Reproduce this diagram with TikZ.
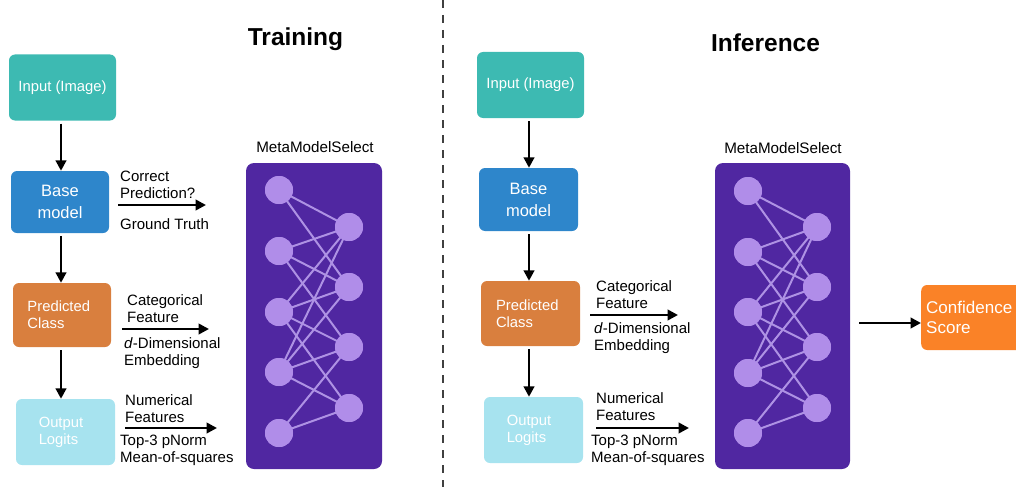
\documentclass[tikz,border=0pt]{standalone}
\usepackage{fontspec}
\setmainfont{Liberation Sans}
\usetikzlibrary{arrows.meta}
\definecolor{cteal}{HTML}{3DBAB2}
\definecolor{cblue}{HTML}{2E86CB}
\definecolor{corange}{HTML}{D97F3E}
\definecolor{ccyan}{HTML}{A7E3EF}
\definecolor{cpurple}{HTML}{5027A1}
\definecolor{cnode}{HTML}{B08DE9}
\definecolor{cedge}{HTML}{AE92E4}
\definecolor{cconf}{HTML}{FA8227}
\tikzset{
  box/.style={rounded corners=6pt, text=white, inner sep=0pt, font=\fontsize{14.8}{17}\selectfont, align=left},
  arr/.style={line width=2.8pt, -{Triangle[length=10.5pt,width=10.5pt]}},
  lbl/.style={anchor=west, inner sep=0pt, align=left, font=\fontsize{15}{17}\selectfont},
  nnbox/.style={fill=cpurple, rounded corners=8pt, minimum width=136pt, minimum height=306pt, inner sep=0pt},
  neuron/.style={circle, fill=cnode, minimum size=28pt, inner sep=0pt},
  edge/.style={cedge, line width=2pt},
  title/.style={font=\fontsize{24.5}{28}\selectfont\bfseries},
  metalbl/.style={font=\fontsize{15.2}{17}\selectfont},
}
\begin{document}
\begin{tikzpicture}[x=1pt,y=-1pt]
\useasboundingbox (0,0) rectangle (1016,487);
% divider
\draw[line width=1.3pt, dash pattern=on 8pt off 7pt, black!75] (443,0) -- (443,487);
% titles
\node[title] (ttrain) at (295.5,39) {Training};
\node[title] (tinf) at (765.5,43) {Inference};

% ---------- Training ----------
\node[box, fill=cteal, minimum width=107pt, minimum height=66pt, align=center] (tin) at (62.5,87.5) {Input (Image)};
\node[box, fill=cblue, minimum width=98pt, minimum height=62pt, align=center, font=\fontsize{16.5}{22}\selectfont] (tbase) at (60,202) {Base\\model};
\node[box, fill=corange, minimum width=98pt, minimum height=64pt] (tpred) at (62,315) {Predicted\\Class\hspace*{32pt}};
\node[box, fill=ccyan, minimum width=99pt, minimum height=66pt] (tout) at (65.5,432) {Output\\Logits\hspace*{14pt}};

\draw[arr] (tin.south -| 61,0) ++(0,3) -- (tbase.north -| 61,0);
\draw[arr] (tbase.south -| 61,0) ++(0,3) -- (tpred.north -| 61,0);
\draw[arr] (tpred.south -| 61,0) ++(0,3) -- (tout.north -| 61,0);

\coordinate (tb1) at (118,205); \coordinate (tb2) at (206,205);
\draw[arr] (tb1) -- (tb2);
\node[lbl] (tl1) at (120,184.5) {Correct\\Prediction?};
\node[lbl] (tl2) at (120,224) {Ground Truth};

\coordinate (tp1) at (122,329); \coordinate (tp2) at (209,329);
\draw[arr] (tp1) -- (tp2);
\node[lbl] (tl3) at (127,308.5) {Categorical\\Feature};
\node[lbl] (tl4) at (124,353) {\textit{d}-Dimensional\\Embedding};

\coordinate (to1) at (125,428); \coordinate (to2) at (217,428);
\draw[arr] (to1) -- (to2);
\node[lbl] (tl5) at (125,408.5) {Numerical\\Features};
\node[lbl] (tl6) at (120,450.5) {Top-3 pNorm\\Mean-of-squares};

\node[metalbl] (tmeta) at (315,147) {MetaModelSelect};
\node[nnbox] (tnn) at (314,316) {};
\foreach \i/\y in {1/190,2/251,3/312,4/372,5/433} \node[neuron] (ta\i) at (279,\y) {};
\foreach \i/\y in {1/227,2/287,3/347,4/408} \node[neuron] (tb\i) at (349,\y) {};
\foreach \a/\b in {1/1,1/2,2/1,2/2,2/3,3/1,3/2,3/3,3/4,4/1,4/2,4/3,4/4,5/3,5/4}
  \draw[edge] (ta\a.center) -- (tb\b.center);
\foreach \i/\y in {1/190,2/251,3/312,4/372,5/433} \node[neuron] at (279,\y) {};
\foreach \i/\y in {1/227,2/287,3/347,4/408} \node[neuron] at (349,\y) {};

% ---------- Inference ----------
\node[box, fill=cteal, minimum width=107pt, minimum height=66pt, align=center] (iin) at (530.5,85) {Input (Image)};
\node[box, fill=cblue, minimum width=99pt, minimum height=63pt, align=center, font=\fontsize{16.5}{22}\selectfont] (ibase) at (528.5,199.5) {Base\\model};
\node[box, fill=corange, minimum width=99pt, minimum height=65pt] (ipred) at (530.5,313.5) {Predicted\\Class\hspace*{32pt}};
\node[box, fill=ccyan, minimum width=99pt, minimum height=66pt] (iout) at (533.5,430) {Output\\Logits\hspace*{14pt}};

\draw[arr] (iin.south -| 529,0) ++(0,3) -- (ibase.north -| 529,0);
\draw[arr] (ibase.south -| 529,0) ++(0,3) -- (ipred.north -| 529,0);
\draw[arr] (ipred.south -| 529,0) ++(0,3) -- (iout.north -| 529,0);

\coordinate (ip1) at (590,315); \coordinate (ip2) at (678,315);
\draw[arr] (ip1) -- (ip2);
\node[lbl] (il3) at (596,294.5) {Categorical\\Feature};
\node[lbl] (il4) at (594,338.5) {\textit{d}-Dimensional\\Embedding};

\coordinate (io1) at (596,428); \coordinate (io2) at (689,428);
\draw[arr] (io1) -- (io2);
\node[lbl] (il5) at (596,406.5) {Numerical\\Features};
\node[lbl] (il6) at (591,450.5) {Top-3 pNorm\\Mean-of-squares};

\node[metalbl] (imeta) at (783,148) {MetaModelSelect};
\node[nnbox, minimum width=135pt] (inn) at (782.5,316) {};
\foreach \i/\y in {1/191,2/252,3/312,4/373,5/433} \node[neuron] (ia\i) at (748,\y) {};
\foreach \i/\y in {1/227,2/287,3/347,4/408} \node[neuron] (ib\i) at (817,\y) {};
\foreach \a/\b in {1/1,1/2,2/1,2/2,2/3,3/1,3/2,3/3,3/4,4/1,4/2,4/3,4/4,5/3,5/4}
  \draw[edge] (ia\a.center) -- (ib\b.center);
\foreach \i/\y in {1/191,2/252,3/312,4/373,5/433} \node[neuron] at (748,\y) {};
\foreach \i/\y in {1/227,2/287,3/347,4/408} \node[neuron] at (817,\y) {};

\node[box, fill=cconf, minimum width=110pt, minimum height=65pt, anchor=west, font=\fontsize{17}{20}\selectfont, text width=102pt, inner xsep=5pt] (conf) at (921,317.5) {Confidence\\Score};
\coordinate (ca) at (859,323);
\draw[arr] (ca) -- (ca -| conf.west);
\end{tikzpicture}
\end{document}
